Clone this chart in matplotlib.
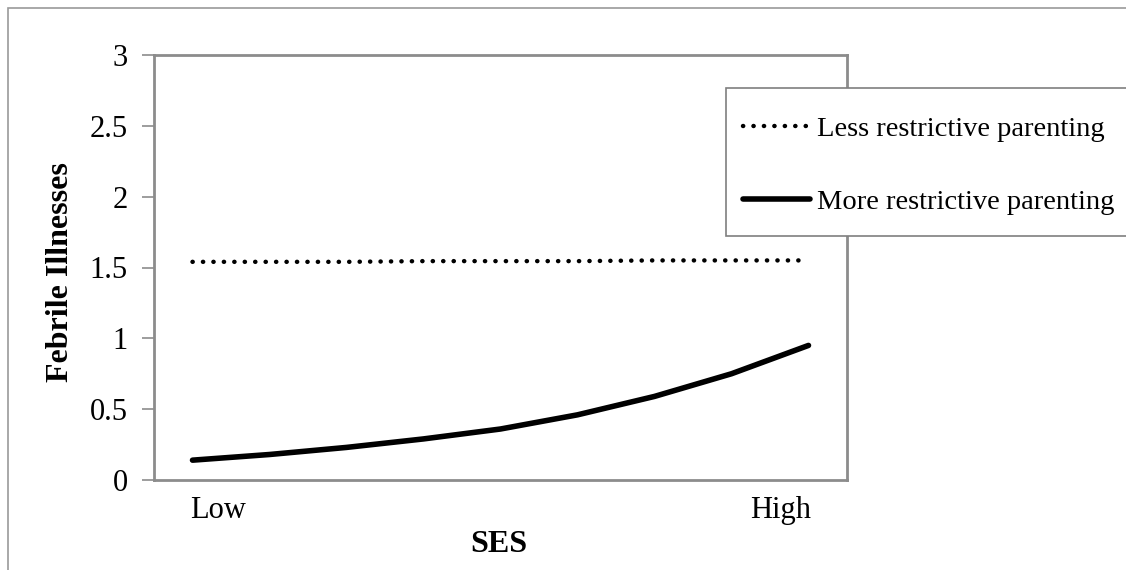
import matplotlib.pyplot as plt
import numpy as np
from matplotlib.patches import Rectangle

plt.rcParams['font.family'] = ['Liberation Serif', 'DejaVu Serif']

# data
ses_points = np.arange(9)
tick_labels = ['Low', 'High']
less_restrictive = [1.54, 1.54, 1.54, 1.545, 1.545, 1.545, 1.55, 1.55, 1.55]
more_restrictive = [0.14, 0.18, 0.23, 0.29, 0.36, 0.46, 0.59, 0.75, 0.95]

W, H = 1126, 570
fig = plt.figure(figsize=(W / 100, H / 100), dpi=100)
ax = fig.add_axes([154 / W, 1 - 480 / H, (847 - 154) / W, (480 - 55) / H])

ax.plot(ses_points, less_restrictive, color='black', lw=3.2, linestyle=(0, (0.05, 2.3)),
        dash_capstyle='round', label='Less restrictive parenting')
ax.plot(ses_points, more_restrictive, color='black', lw=4, solid_capstyle='round',
        label='More restrictive parenting')

ax.set_xlim(-0.5, 8.5)
ax.set_ylim(0, 3)
ax.set_yticks([0, 0.5, 1, 1.5, 2, 2.5, 3])
ax.set_yticklabels(['0', '0.5', '1', '1.5', '2', '2.5', '3'])
ax.set_xticks([])
ax.text(ses_points[0] - 0.03, -0.11, tick_labels[0], ha='left', va='top', fontsize=22,
        transform=ax.transData, clip_on=False)
ax.text(ses_points[-1] + 0.03, -0.11, tick_labels[1], ha='right', va='top', fontsize=22,
        transform=ax.transData, clip_on=False)

for s in ax.spines.values():
    s.set_color('#8c8c8c')
    s.set_linewidth(2)
ax.tick_params(axis='y', direction='out', length=9, width=1.2, color='#8c8c8c',
               labelsize=22, pad=10)

ax.set_ylabel('Febrile Illnesses', fontsize=23, fontweight='bold')
ax.yaxis.set_label_coords((61 - 154) / (847 - 154), 0.5 - (272 - 267.5) / (480 - 55))
ax.set_xlabel('SES', fontsize=23, fontweight='bold')
ax.xaxis.set_label_coords((499 - 154) / (847 - 154), -(544 - 480) / (480 - 55))
ax.xaxis.label.set_va('center')
ax.yaxis.label.set_va('center')

# legend box drawn separately so padding can be matched
fig.patches.append(Rectangle((726 / W, 1 - 236 / H), 500 / W, (236 - 88) / H,
                             transform=fig.transFigure, facecolor='white',
                             edgecolor='#7f7f7f', lw=1.2, zorder=3))
leg = fig.legend(loc='upper left', bbox_to_anchor=(743 / W, 1 - 116 / H),
                 fontsize=20.5, frameon=False, handlelength=2.35, handletextpad=0.25,
                 labelspacing=1.67, borderpad=0, borderaxespad=0)
leg.set_zorder(4)

# outer chart border
fig.patches.append(Rectangle((8 / W, -0.1), 1.2, 1 - 8 / H + 0.1, transform=fig.transFigure,
                             fill=False, edgecolor='#9a9a9a', lw=1.2))

fig.savefig('out.png', dpi=100)
